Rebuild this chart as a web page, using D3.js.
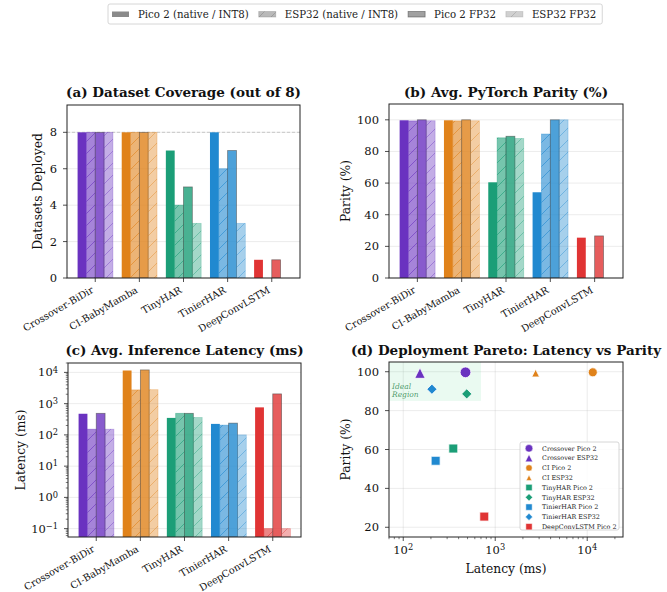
<!DOCTYPE html>
<html lang="en">
<head>
<meta charset="UTF-8">
<title>Deployment summary</title>
<script src="https://d3js.org/d3.v7.min.js"></script>
<style>
  body { margin: 0; background: #fff; }
  svg { display: block; font-family: "DejaVu Serif", serif; }
</style>
</head>
<body>
<svg id="chart" width="667" height="592"></svg>
<script>
// model names and colours
var models = ['Crossover-BiDir', 'CI-BabyMamba', 'TinyHAR', 'TinierHAR', 'DeepConvLSTM'];
var shortNames = ['Crossover', 'CI', 'TinyHAR', 'TinierHAR', 'DeepConvLSTM'];
var modelColors = ['#6a32c0', '#e0821a', '#1b9e77', '#2189d0', '#e03434'];
var variants = ['Pico 2 (native / INT8)', 'ESP32 (native / INT8)', 'Pico 2 FP32', 'ESP32 FP32'];

// (a) datasets deployed (out of 8)
var coveragePicoNative = [8, 8, 7, 8, 1];
var coverageEspNative  = [8, 8, 4, 6, 0];
var coveragePicoFp32   = [8, 8, 5, 7, 1];
var coverageEspFp32    = [8, 8, 3, 3, 0];

// (b) average parity with PyTorch, %
var parityPicoNative = [99.7, 99.7, 60.5, 54.2, 25.5];
var parityEspNative  = [99.3, 99.3, 88.6, 91.0, 0];
var parityPicoFp32   = [100, 100, 89.6, 100, 26.6];
var parityEspFp32    = [99.4, 99.4, 88.2, 100, 0];

// (c) average latency, ms (0.1 where nothing ran)
var latencyPicoNative = [475, 11500, 350, 225, 760];
var latencyEspNative  = [152, 2750, 490, 205, 0.1];
var latencyPicoFp32   = [490, 12000, 490, 238, 2050];
var latencyEspFp32    = [152, 2800, 360, 100, 0.1];

// tick values
var coverageTicks = [0, 2, 4, 6, 8];
var parityTicks = [0, 20, 40, 60, 80, 100];
var latencyTicks = [-1, 0, 1, 2, 3, 4];      // exponents
var paretoXTicks = [2, 3, 4];                 // exponents
var paretoYTicks = [20, 40, 60, 80, 100];

var svg = d3.select('#chart');
var defs = svg.append('defs');
var TICK_FONT = 11.5, LABEL_FONT = 12.3, TITLE_FONT = 13.5;

// bar look for each variant
var variantStyle = [
  { alpha: 1.0, hatch: false, edge: null },
  { alpha: 0.6, hatch: true,  edge: 'self' },
  { alpha: 0.8, hatch: false, edge: '#444' },
  { alpha: 0.4, hatch: true,  edge: 'self' }
];

function hatchId(color) {
  var id = 'hatch' + color.replace('#', '');
  if (defs.select('#' + id).empty()) {
    var p = defs.append('pattern').attr('id', id)
      .attr('patternUnits', 'userSpaceOnUse').attr('width', 12).attr('height', 12);
    p.append('path').attr('d', 'M-2,2 L2,-2 M0,12 L12,0 M10,14 L14,10')
      .attr('stroke', color).attr('stroke-width', 1);
  }
  return 'url(#' + id + ')';
}

function drawBar(g, x, w, y0, y1, color, st) {
  var r = g.append('g');
  r.append('rect').attr('x', x).attr('y', y1).attr('width', w).attr('height', y0 - y1)
    .attr('fill', color).attr('fill-opacity', st.alpha);
  if (st.hatch) {
    r.append('rect').attr('x', x).attr('y', y1).attr('width', w).attr('height', y0 - y1)
      .attr('fill', hatchId(color)).attr('opacity', st.alpha);
  }
  if (st.edge) {
    r.append('rect').attr('x', x).attr('y', y1).attr('width', w).attr('height', y0 - y1)
      .attr('fill', 'none')
      .attr('stroke', st.edge === 'self' ? color : st.edge)
      .attr('stroke-opacity', st.edge === 'self' ? st.alpha * 0.8 : 0.6)
      .attr('stroke-width', 0.8);
  }
}

function supLabel(sel, exp) {
  sel.append('tspan').text('10');
  sel.append('tspan').attr('dy', '-0.45em').attr('font-size', '0.72em')
    .text(String(exp).replace('-', '\u2212'));
}

function frame(g, box) {
  g.append('rect').attr('x', box.l).attr('y', box.t)
    .attr('width', box.r - box.l).attr('height', box.b - box.t)
    .attr('fill', 'none').attr('stroke', '#222').attr('stroke-width', 1);
}

function title(text, box, y) {
  svg.append('text').attr('x', (box.l + box.r) / 2).attr('y', y)
    .attr('text-anchor', 'middle').attr('font-weight', 'bold').attr('font-size', TITLE_FONT)
    .attr('fill', '#111').text(text);
}

function yLabel(text, x, box) {
  svg.append('text').attr('transform', 'translate(' + x + ',' + ((box.t + box.b) / 2) + ') rotate(-90)')
    .attr('text-anchor', 'middle').attr('font-size', LABEL_FONT).attr('fill', '#111').text(text);
}

// bar panel
function barPanel(box, series, y, opts) {
  var g = svg.append('g');
  var x = d3.scaleLinear().domain([-0.64, models.length - 1 + 0.64]).range([box.l, box.r]);
  var bw = 0.2;
  var clipId = 'clip' + Math.round(box.l) + '_' + Math.round(box.t);
  defs.append('clipPath').attr('id', clipId).append('rect')
    .attr('x', box.l).attr('y', box.t).attr('width', box.r - box.l).attr('height', box.b - box.t);

  // grid
  opts.gridVals.forEach(function (v) {
    g.append('line').attr('x1', box.l).attr('x2', box.r).attr('y1', y(v)).attr('y2', y(v))
      .attr('stroke', '#b0b0b0').attr('stroke-opacity', 0.3).attr('stroke-width', 0.8);
  });
  if (opts.refLine != null) {
    g.append('line').attr('x1', box.l).attr('x2', box.r)
      .attr('y1', y(opts.refLine)).attr('y2', y(opts.refLine))
      .attr('stroke', '#999').attr('stroke-opacity', 0.6).attr('stroke-width', 0.8)
      .attr('stroke-dasharray', '3,2');
  }

  var bars = g.append('g').attr('clip-path', 'url(#' + clipId + ')');
  series.forEach(function (vals, k) {
    vals.forEach(function (v, i) {
      if (!(v > 0)) return;
      var x0 = x(i + (k - 2) * bw);
      var x1 = x(i + (k - 1) * bw);
      drawBar(bars, x0, x1 - x0, box.b, y(v), modelColors[i], variantStyle[k]);
    });
  });

  frame(g, box);

  // y ticks
  opts.yTicks.forEach(function (v) {
    var yy = y(opts.log ? Math.pow(10, v) : v);
    g.append('line').attr('x1', box.l - 4).attr('x2', box.l).attr('y1', yy).attr('y2', yy)
      .attr('stroke', '#222').attr('stroke-width', 0.8);
    var t = g.append('text').attr('x', box.l - 10).attr('y', yy).attr('dy', '0.35em')
      .attr('text-anchor', 'end').attr('font-size', TICK_FONT).attr('fill', '#111');
    if (opts.log) supLabel(t, v); else t.text(v);
  });
  if (opts.log) {
    var dom = y.domain();
    for (var e = Math.floor(Math.log10(dom[0])); e <= Math.ceil(Math.log10(dom[1])); e++) {
      for (var m = 2; m <= 9; m++) {
        var v = m * Math.pow(10, e);
        if (v < dom[0] || v > dom[1]) continue;
        g.append('line').attr('x1', box.l - 2.2).attr('x2', box.l).attr('y1', y(v)).attr('y2', y(v))
          .attr('stroke', '#222').attr('stroke-width', 0.6);
      }
    }
  }

  // x ticks
  models.forEach(function (name, i) {
    var xx = x(i);
    g.append('line').attr('x1', xx).attr('x2', xx).attr('y1', box.b).attr('y2', box.b + 4)
      .attr('stroke', '#222').attr('stroke-width', 0.8);
    g.append('text').attr('transform', 'translate(' + (xx - 1) + ',' + (box.b + 14) + ') rotate(-30)')
      .attr('text-anchor', 'end').attr('font-size', 9.8).attr('fill', '#111').text(name);
  });
}

// (a)
var boxA = { l: 67, r: 300, t: 105, b: 278 };
barPanel(boxA, [coveragePicoNative, coverageEspNative, coveragePicoFp32, coverageEspFp32],
  d3.scaleLinear().domain([0, 9.5]).range([boxA.b, boxA.t]),
  { yTicks: coverageTicks, gridVals: coverageTicks, refLine: 8 });
title('(a) Dataset Coverage (out of 8)', boxA, 97);
yLabel('Datasets Deployed', 42, boxA);

// (b)
var boxB = { l: 389, r: 623, t: 104, b: 278 };
barPanel(boxB, [parityPicoNative, parityEspNative, parityPicoFp32, parityEspFp32],
  d3.scaleLinear().domain([0, 110]).range([boxB.b, boxB.t]),
  { yTicks: parityTicks, gridVals: parityTicks });
title('(b) Avg. PyTorch Parity (%)', boxB, 97);
yLabel('Parity (%)', 350, boxB);

// (c)
var boxC = { l: 68, r: 301, t: 363, b: 537 };
barPanel(boxC, [latencyPicoNative, latencyEspNative, latencyPicoFp32, latencyEspFp32],
  d3.scaleLog().domain([0.054, 20000]).range([boxC.b, boxC.t]),
  { yTicks: latencyTicks, gridVals: latencyTicks.map(function (e) { return Math.pow(10, e); }), log: true });
title('(c) Avg. Inference Latency (ms)', boxC, 355);
yLabel('Latency (ms)', 25, boxC);

// (d) pareto scatter (native builds only)
var boxD = { l: 389, r: 623, t: 362, b: 537 };
var px = d3.scaleLog().domain([70, 24500]).range([boxD.l, boxD.r]);
var py = d3.scaleLinear().domain([15, 105]).range([boxD.b, boxD.t]);
var gD = svg.append('g');
defs.append('clipPath').attr('id', 'clipD').append('rect')
  .attr('x', boxD.l).attr('y', boxD.t).attr('width', boxD.r - boxD.l).attr('height', boxD.b - boxD.t);

paretoYTicks.forEach(function (v) {
  gD.append('line').attr('x1', boxD.l).attr('x2', boxD.r).attr('y1', py(v)).attr('y2', py(v))
    .attr('stroke', '#b0b0b0').attr('stroke-opacity', 0.3).attr('stroke-width', 0.8);
});
paretoXTicks.forEach(function (e) {
  var xx = px(Math.pow(10, e));
  gD.append('line').attr('x1', xx).attr('x2', xx).attr('y1', boxD.t).attr('y2', boxD.b)
    .attr('stroke', '#b0b0b0').attr('stroke-opacity', 0.3).attr('stroke-width', 0.8);
});

// ideal region
var clipped = gD.append('g').attr('clip-path', 'url(#clipD)');
clipped.append('rect').attr('x', px(50)).attr('y', py(105))
  .attr('width', px(700) - px(50)).attr('height', py(85) - py(105))
  .attr('fill', '#2ecc71').attr('fill-opacity', 0.1);
var ideal = gD.append('text').attr('x', boxD.l + 3).attr('y', py(91.3))
  .attr('font-size', 7.5).attr('font-style', 'italic').attr('fill', '#1e8449').attr('fill-opacity', 0.8);
ideal.append('tspan').attr('x', boxD.l + 3).text('Ideal');
ideal.append('tspan').attr('x', boxD.l + 3).attr('dy', '1.15em').text('Region');

// scatter points: built from the native bar data
var points = [];
models.forEach(function (m, i) {
  var big = i < 2;
  if (coveragePicoNative[i] > 0)
    points.push({ name: shortNames[i] + ' Pico 2', lat: latencyPicoNative[i], par: parityPicoNative[i],
      color: modelColors[i], shape: big ? 'circle' : 'square', size: i === 0 ? 90 : (i === 1 ? 64 : 80) });
  if (coverageEspNative[i] > 0)
    points.push({ name: shortNames[i] + ' ESP32', lat: latencyEspNative[i], par: parityEspNative[i],
      color: modelColors[i], shape: big ? 'triangle' : 'diamond', size: i === 0 ? 55 : (i === 1 ? 30 : 52) });
});

function markerPath(shape, size) {
  if (shape === 'circle') return d3.symbol().type(d3.symbolCircle).size(size)();
  if (shape === 'square' || shape === 'diamond') return d3.symbol().type(d3.symbolSquare).size(size)();
  // matplotlib-like triangle: width equals height
  var h = Math.sqrt(2 * size) / 2;
  return 'M0,' + (-h) + 'L' + h + ',' + h + 'L' + (-h) + ',' + h + 'Z';
}

function placeMarker(g, p, x, y, scale, sw) {
  g.append('path').attr('d', markerPath(p.shape, p.size * scale))
    .attr('transform', 'translate(' + x + ',' + y + ')' + (p.shape === 'diamond' ? ' rotate(45)' : ''))
    .attr('fill', p.color).attr('stroke', '#fff').attr('stroke-width', sw);
}

points.forEach(function (p) {
  placeMarker(gD, p, px(p.lat), py(p.par), 1, 0.8);
});

frame(gD, boxD);

paretoYTicks.forEach(function (v) {
  var yy = py(v);
  gD.append('line').attr('x1', boxD.l - 4).attr('x2', boxD.l).attr('y1', yy).attr('y2', yy)
    .attr('stroke', '#222').attr('stroke-width', 0.8);
  gD.append('text').attr('x', boxD.l - 10).attr('y', yy).attr('dy', '0.35em')
    .attr('text-anchor', 'end').attr('font-size', TICK_FONT).attr('fill', '#111').text(v);
});
paretoXTicks.forEach(function (e) {
  var xx = px(Math.pow(10, e));
  gD.append('line').attr('x1', xx).attr('x2', xx).attr('y1', boxD.b).attr('y2', boxD.b + 4)
    .attr('stroke', '#222').attr('stroke-width', 0.8);
  var t = gD.append('text').attr('x', xx).attr('y', boxD.b + 17)
    .attr('text-anchor', 'middle').attr('font-size', TICK_FONT).attr('fill', '#111');
  supLabel(t, e);
});
for (var e = 1; e <= 4; e++) {
  for (var m = 2; m <= 9; m++) {
    var v = m * Math.pow(10, e);
    if (v < px.domain()[0] || v > px.domain()[1]) continue;
    gD.append('line').attr('x1', px(v)).attr('x2', px(v)).attr('y1', boxD.b).attr('y2', boxD.b + 2.2)
      .attr('stroke', '#222').attr('stroke-width', 0.6);
  }
}
title('(d) Deployment Pareto: Latency vs Parity', boxD, 355);
yLabel('Parity (%)', 350, boxD);
svg.append('text').attr('x', (boxD.l + boxD.r) / 2).attr('y', 573).attr('text-anchor', 'middle')
  .attr('font-size', LABEL_FONT).attr('fill', '#111').text('Latency (ms)');

// legend for (d)
var lg = svg.append('g');
lg.append('rect').attr('x', 520).attr('y', 442).attr('width', 99).attr('height', 88)
  .attr('rx', 2).attr('fill', '#fff').attr('fill-opacity', 0.85).attr('stroke', '#ccc').attr('stroke-width', 0.8);
points.forEach(function (p, j) {
  var yy = 448.3 + j * 9.8;
  placeMarker(lg, p, 529, yy, 0.5, 0.5);
  lg.append('text').attr('x', 542).attr('y', yy).attr('dy', '0.35em').attr('font-size', 6.4)
    .attr('fill', '#222').text(p.name);
});

// top legend
var tl = svg.append('g');
var legendBox = tl.append('rect').attr('y', 4).attr('height', 20).attr('rx', 2)
  .attr('fill', '#fff').attr('stroke', '#ccc').attr('stroke-width', 0.8);
var cx = 112;
variants.forEach(function (name, k) {
  drawBar(tl, cx, 17, 17, 11.5, '#8a8a8a', variantStyle[k]);
  var t = tl.append('text').attr('x', cx + 26).attr('y', 14.5).attr('dy', '0.35em')
    .attr('font-size', 10.2).attr('fill', '#222').text(name);
  cx += 26 + t.node().getComputedTextLength() + 10;
});
legendBox.attr('x', 108).attr('width', cx - 108 - 4);
</script>
</body>
</html>
